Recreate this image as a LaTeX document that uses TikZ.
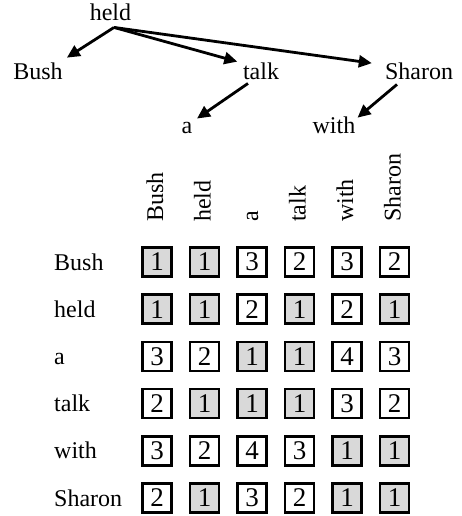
\documentclass[tikz,border=0pt]{standalone}
\usepackage{fontspec}
\setmainfont{Liberation Serif}
\usetikzlibrary{arrows.meta}
\begin{document}
\begin{tikzpicture}[x=1pt,y=-1pt,
  big/.style={font=\fontsize{24}{28}\selectfont},
  word/.style={big, inner sep=3pt, anchor=base},
  dep/.style={line width=2.8pt, -{Triangle[length=13pt,width=12pt]}},
  lbl/.style={big, inner sep=0pt, anchor=base west},
  hdr/.style={big, inner sep=0pt, anchor=base west, rotate=90},
  cell/.style={font=\fontsize{27}{30}\selectfont, draw, line width=2.7pt, minimum size=29pt, inner sep=0pt},
  v1/.style={fill=black!15}, v2/.style={}, v3/.style={}, v4/.style={}]
\useasboundingbox (0,0) rectangle (461,516);

% dependency tree
\node[word] (held)   at (110.5,21) {held};
\node[word] (Bush)   at (38,80)    {Bush};
\node[word] (talk)   at (261,80)   {talk};
\node[word] (Sharon) at (419,80)   {Sharon};
\node[word] (a)      at (187,133)  {a};
\node[word] (with)   at (334,133)  {with};

\draw[dep] ([xshift=3.5pt,yshift=-3pt]held.south) -- ([xshift=1pt,yshift=2.5pt]Bush.north east);
\draw[dep] ([xshift=3.5pt,yshift=-3pt]held.south) -- ([xshift=-2.5pt,yshift=-1.5pt]talk.north west);
\draw[dep] ([xshift=3.5pt,yshift=-3pt]held.south) -- ([xshift=-10pt,yshift=-3pt]Sharon.north west);
\draw[dep] ([xshift=-13pt]talk.south) -- ([xshift=1.5pt]a.north east);
\draw[dep] ([xshift=-22pt,yshift=-1pt]Sharon.south) -- ([xshift=-1pt,yshift=-4.5pt]with.north east);

% matrix headers
\foreach \w [count=\j from 0] in {Bush,held,a,talk,with,Sharon} {
  \node[hdr] (c\j) at ({157+47.5*\j+6},222) {\w};
  \node[lbl] (r\j) at (54,{262+47.2*\j+8}) {\w};
}

% matrix cells
\foreach \row [count=\i from 0] in {{1,1,3,2,3,2},{1,1,2,1,2,1},{3,2,1,1,4,3},{2,1,1,1,3,2},{3,2,4,3,1,1},{2,1,3,2,1,1}} {
  \foreach \v [count=\j from 0] in \row {
    \node[cell, v\v] (m\i\j) at ({157+47.5*\j},{262+47.2*\i}) {\v};
  }
}
\end{tikzpicture}
\end{document}
